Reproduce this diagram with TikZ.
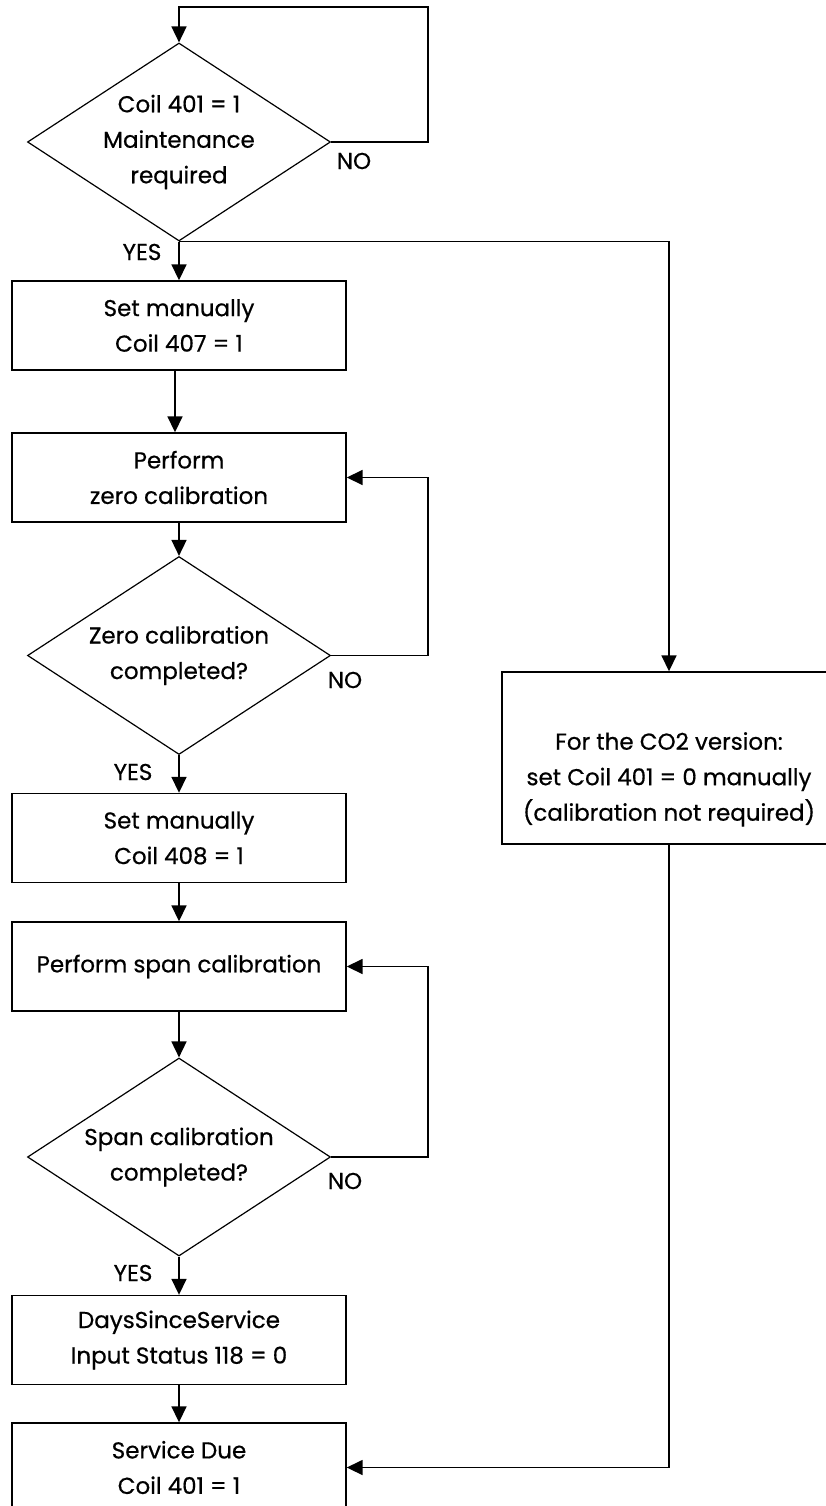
\documentclass[tikz,border=0pt]{standalone}
\usepackage{fontspec}
\setmainfont{Poppins}[FakeBold=0.6]
\usetikzlibrary{shapes.geometric,arrows.meta}
\begin{document}
\begin{tikzpicture}[x=1pt,y=-1pt,
  every node/.style={font=\fontsize{23}{35.5}\selectfont\addfontfeatures{FakeBold=0.6}},
  procbox/.style={draw, line width=1.4pt, minimum width=334pt, minimum height=89pt, inner sep=0pt, align=center},
  decbox/.style={draw, diamond, aspect=1.53, line width=1.2pt, minimum width=303pt, minimum height=198pt, inner sep=0pt, align=center},
  conn/.style={line width=1.7pt},
  arr/.style={conn, -{Triangle[length=16pt,width=15pt]}},
  lbl/.style={inner sep=0pt}
]
\useasboundingbox (0,0) rectangle (826,1506);
\clip (0,0) rectangle (826,1506);

% nodes
\node[decbox] (d1) at (179,142) {Coil 401 = 1\\Maintenance\\required};
\node[procbox] (b1) at (179,325.5) {Set manually\\Coil 407 = 1};
\node[procbox] (b2) at (179,477.5) {Perform\\zero calibration};
\node[decbox] (d2) at (179,655.5) {Zero calibration\\completed?};
\node[procbox] (b3) at (179,838) {Set manually\\Coil 408 = 1};
\node[procbox] (b4) at (179,966.5) {Perform span calibration};
\node[decbox] (d3) at (179,1157) {Span calibration\\completed?};
\node[procbox] (b5) at (179,1340) {DaysSinceService\\Input Status 118 = 0};
\node[procbox] (b6) at (179,1467.5) {Service Due\\Coil 401 = 1};
\node[procbox, minimum height=172pt] (rb) at (669,758) {\strut\\For the CO2 version:\\set Coil 401 = 0 manually\\(calibration not required)};

% labels
\node[lbl] (no1) at (354,161) {NO};
\node[lbl] (no2) at (345,680) {NO};
\node[lbl] (no3) at (345,1181) {NO};
\node[lbl] (yes1) at (142,252) {YES};
\node[lbl] (yes2) at (133,772) {YES};
\node[lbl] (yes3) at (133,1273) {YES};

% loop coordinates
\coordinate (l1) at (428,7);
\coordinate (l2) at (428,477.5);
\coordinate (l3) at (428,966.5);

% connectors
\draw[arr] (d1.east) -| (l1) -| (d1.north);
\draw[arr] (d1.south) -- (b1.north);
\draw[arr] (d1.south) -| (rb.north);
\draw[arr] ([xshift=-4pt]b1.south) -- ([xshift=-4pt]b2.north);
\draw[arr] (b2.south) -- (d2.north);
\draw[arr] (d2.east) -| (l2) -- (b2.east);
\draw[arr] (d2.south) -- (b3.north);
\draw[arr] (b3.south) -- (b4.north);
\draw[arr] (b4.south) -- (d3.north);
\draw[arr] (d3.east) -| (l3) -- (b4.east);
\draw[arr] (d3.south) -- (b5.north);
\draw[arr] (b5.south) -- (b6.north);
\draw[arr] (rb.south) |- (b6.east);
\end{tikzpicture}
\end{document}
